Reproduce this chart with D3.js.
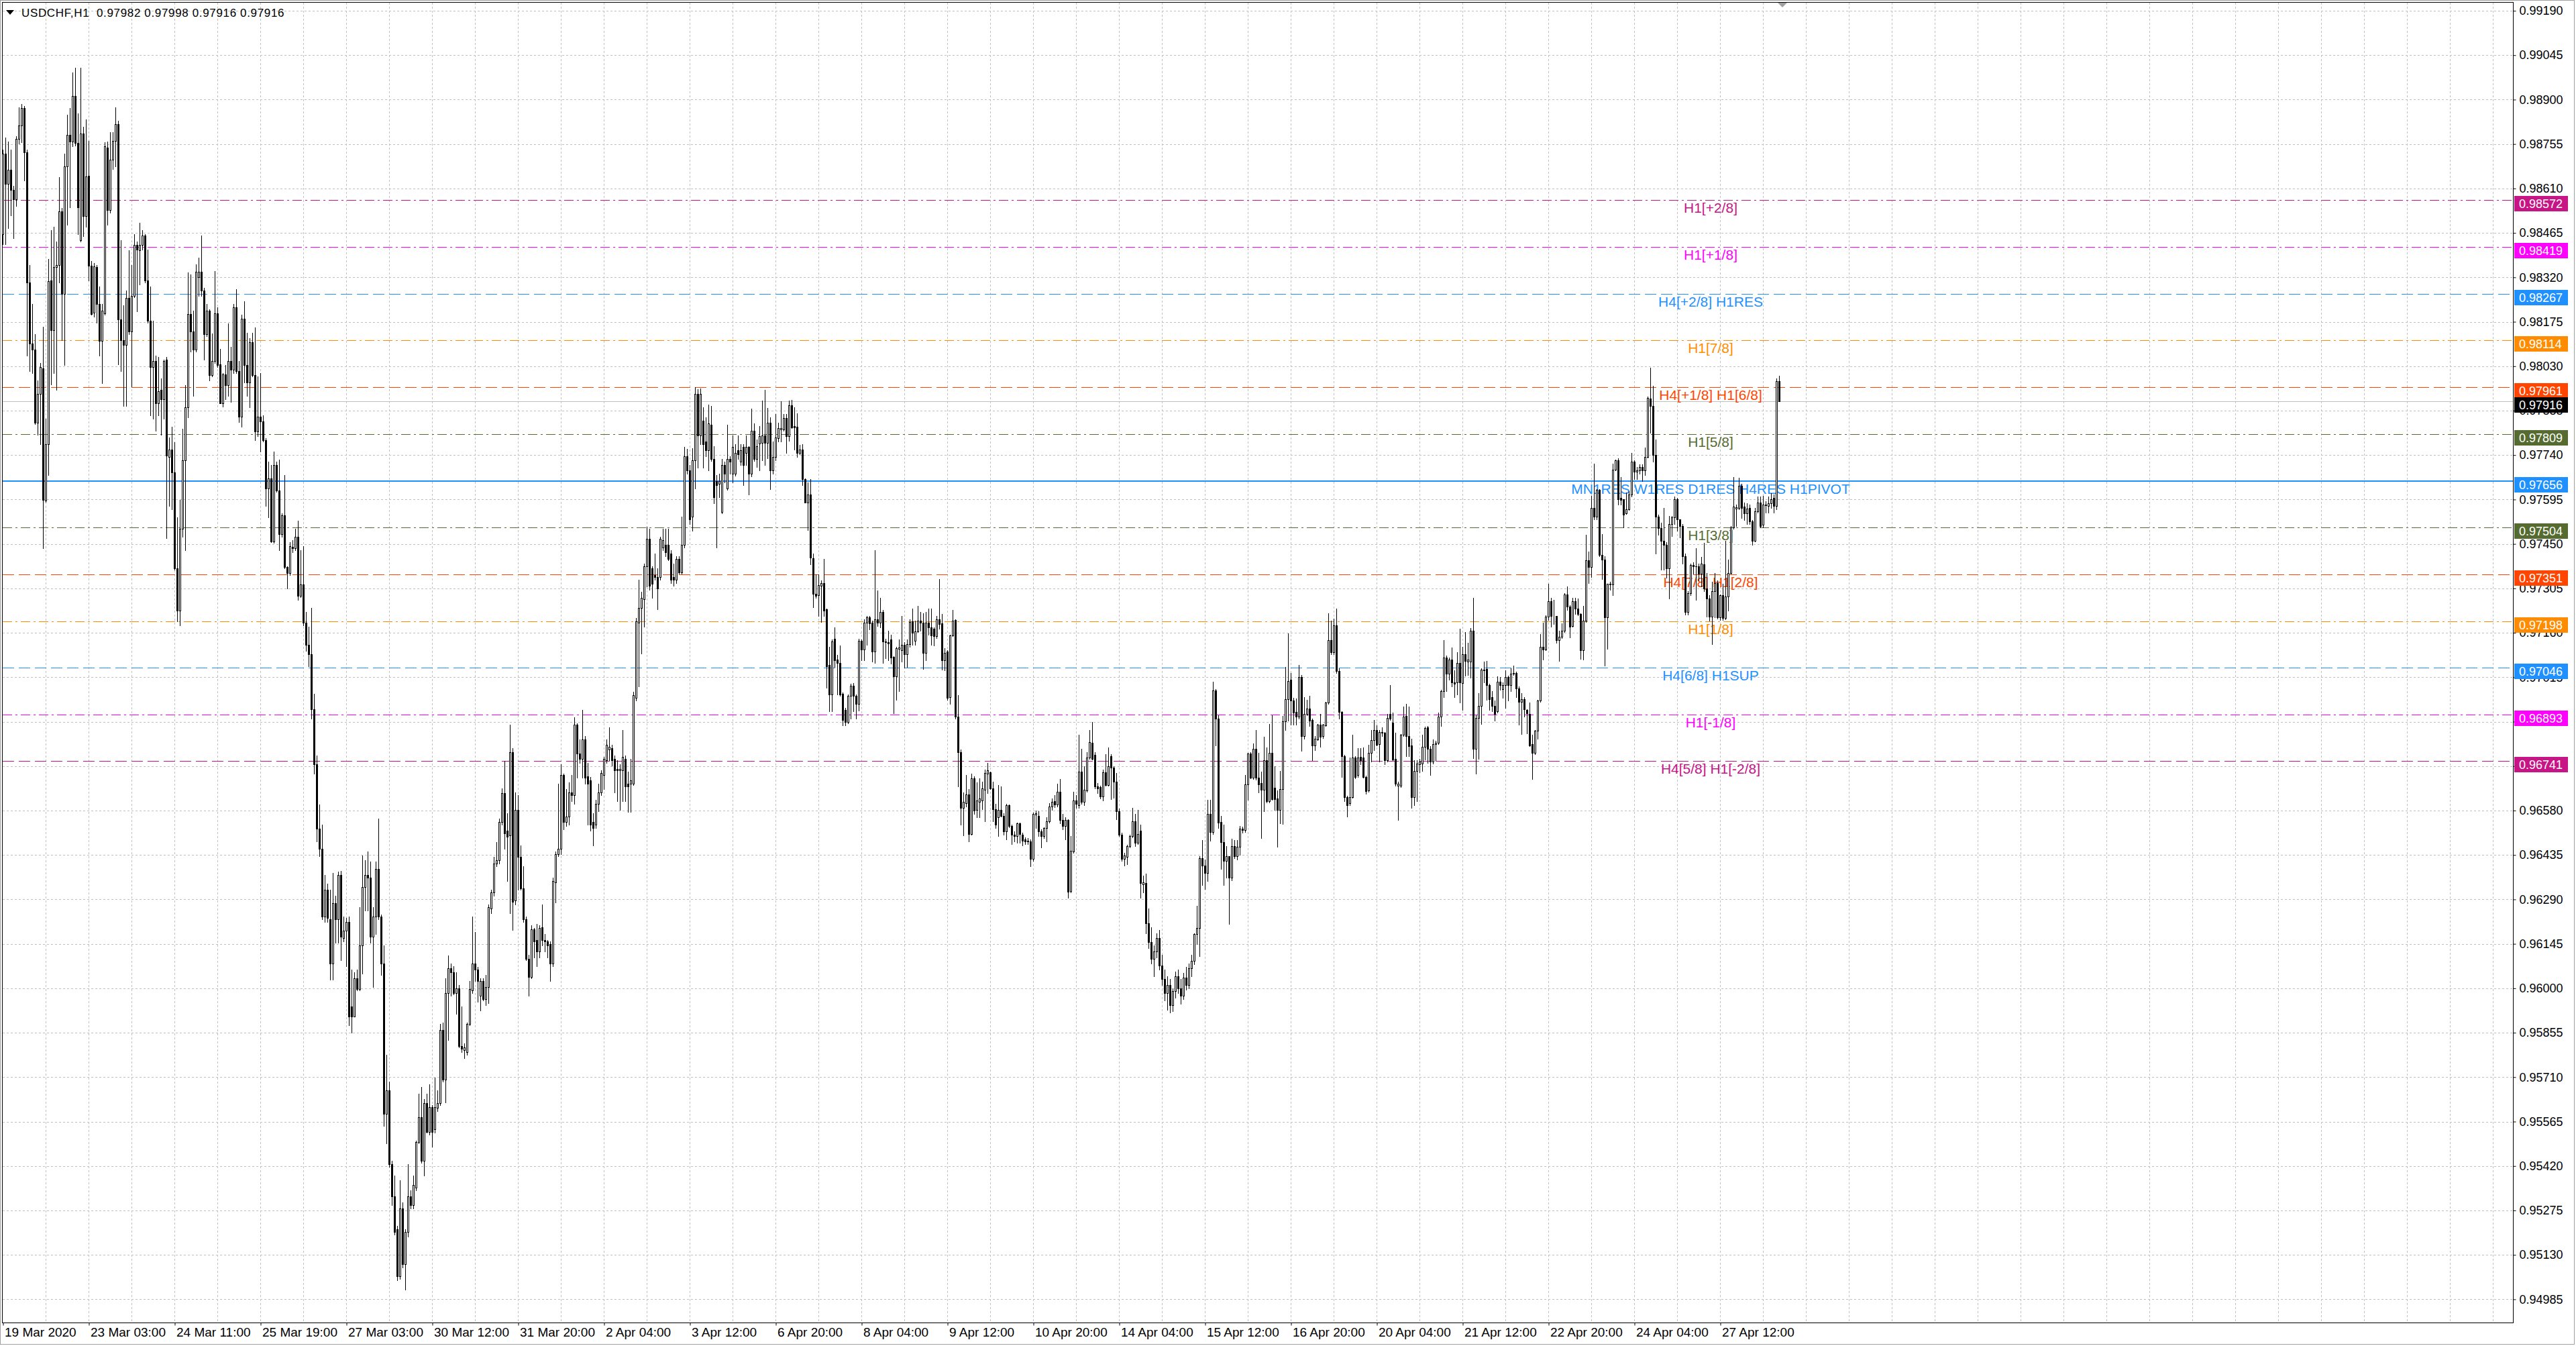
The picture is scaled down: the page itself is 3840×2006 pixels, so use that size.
<!DOCTYPE html>
<html>
<head>
<meta charset="utf-8">
<script src="https://cdn.jsdelivr.net/npm/d3@7"></script>
<style>
  html, body { margin: 0; padding: 0; background: #fff; overflow: hidden; }
  svg { display: block; }
</style>
</head>
<body>
<svg id="chart"></svg>
<script>
const W = 3840, H = 2006;

const title = "USDCHF,H1  0.97982 0.97998 0.97916 0.97916";

const timeLabels = ["19 Mar 2020", "23 Mar 03:00", "24 Mar 11:00", "25 Mar 19:00", "27 Mar 03:00",
  "30 Mar 12:00", "31 Mar 20:00", "2 Apr 04:00", "3 Apr 12:00", "6 Apr 20:00", "8 Apr 04:00",
  "9 Apr 12:00", "10 Apr 20:00", "14 Apr 04:00", "15 Apr 12:00", "16 Apr 20:00", "20 Apr 04:00",
  "21 Apr 12:00", "22 Apr 20:00", "24 Apr 04:00", "27 Apr 12:00"];
const barsPerTimeLabel = 32;

const priceTicks = [0.99190, 0.99045, 0.98900, 0.98755, 0.98610, 0.98465, 0.98320, 0.98175, 0.98030,
  0.97885, 0.97740, 0.97595, 0.97450, 0.97305, 0.97160, 0.97015, 0.96870, 0.96725, 0.96580, 0.96435,
  0.96290, 0.96145, 0.96000, 0.95855, 0.95710, 0.95565, 0.95420, 0.95275, 0.95130, 0.94985];

// Murrey levels drawn by the indicator
const levelPrices = [0.98572, 0.98419, 0.98267, 0.98114, 0.97961, 0.97809, 0.97656, 0.97504, 0.97351,
  0.97198, 0.97046, 0.96893, 0.96741];
const levelNames = ["H1[+2/8]", "H1[+1/8]", "H4[+2/8] H1RES", "H1[7/8]", "H4[+1/8] H1[6/8]", "H1[5/8]",
  "MN1RES W1RES D1RES H4RES H1PIVOT", "H1[3/8]", "H4[7/8] H1[2/8]", "H1[1/8]", "H4[6/8] H1SUP",
  "H1[-1/8]", "H4[5/8] H1[-2/8]"];
const levelColors = ["#C71585", "#FF00FF", "#1E90FF", "#FF8C00", "#FF4500", "#556B2F", "#1E90FF",
  "#556B2F", "#FF4500", "#FF8C00", "#1E90FF", "#FF00FF", "#C71585"];
const levelStyles = ["dashdot", "dashdot", "dash", "dashdot", "dash", "dashdot", "solid", "dashdot",
  "dash", "dashdot", "dash", "dashdot", "dash"];
const bidPrice = 0.97916;

// H1 candles, [open, high, low, close] in points above 0.90000
const BASE = 0.9;
const ohlc = [
[8461,8737,8429,8724],[8724,8777,8429,8624],[8624,8762,8480,8672],[8672,8737,8523,8605],[8605,8618,8448,8574],
[8574,8781,8552,8772],[8772,8875,8756,8815],[8815,8885,8760,8873],[8873,8878,8637,8728],[8728,8737,8065,8304],
[8304,8360,8015,8103],[8103,8234,8008,8084],[8084,8134,7842,7845],[7845,7983,7807,7939],[7939,8040,7776,8027],
[8023,8159,7437,7594],[7591,7858,7587,7776],[7776,8379,7675,8307],[8310,8473,7971,8147],[8147,8486,8008,8354],
[8354,8436,7952,8360],[8360,8647,8304,8536],[8536,8546,8115,8266],[8266,8724,8033,8683],[8683,8850,8492,8785],
[8785,8872,8549,8762],[8762,8988,8747,8913],[8913,9003,8750,8758],[8758,8856,8461,8549],[8442,9003,8436,8790],
[8790,8812,8454,8521],[8521,8835,8486,8649],[8652,8765,8310,8358],[8358,8373,8197,8201],[8204,8366,8191,8355],
[8354,8360,8172,8234],[8234,8291,8065,8113],[8113,8234,7974,8212],[8203,8760,8199,8747],[8743,8762,8492,8540],
[8540,8794,8530,8703],[8703,8794,8674,8766],[8766,8875,8681,8821],[8819,8831,8036,8182],[8182,8442,8015,8115],
[8115,8228,7901,8099],[8099,8278,7901,8253],[8253,8408,8134,8144],[8144,8360,7964,8260],[8260,8461,8256,8425],
[8425,8436,8209,8410],[8408,8498,8297,8425],[8425,8473,8410,8456],[8456,8461,8304,8310],[8310,8410,8172,8178],
[8178,8291,7870,8027],[8027,8178,7858,8048],[8048,8064,7820,7910],[7910,8061,7870,7948],[7952,7989,7807,7923],
[7923,8052,7858,8048],[8052,8061,7468,7738],[7734,7797,7575,7757],[7757,7832,7562,7684],[7684,7782,7367,7370],
[7370,7537,7198,7233],[7233,7594,7185,7499],[7499,7826,7474,7722],[7722,7968,7430,7895],[7895,8335,7864,8201],
[8201,8329,8077,8144],[8144,8212,7933,8084],[8084,8363,8077,8339],[8320,8385,8260,8339],[8339,8457,8260,8278],
[8278,8285,8052,8134],[8134,8234,8128,8212],[8212,8215,7983,8002],[8002,8136,7996,8048],[8048,8341,8040,8203],
[8203,8222,8027,8033],[8036,8086,7908,7910],[7910,8008,7898,8003],[8003,8033,7923,7968],[7968,8169,7933,8048],
[8048,8094,7913,8018],[8018,8234,8008,8222],[8222,8281,8008,8015],[8015,8046,7847,7866],[7866,8199,7832,8184],
[8184,8241,7977,8033],[8033,8140,7933,7977],[7977,8121,7895,8109],[8109,8140,7996,8002],[8002,8157,7788,7817],
[7817,7996,7801,7866],[7866,8008,7751,7851],[7851,7870,7785,7788],[7788,7795,7575,7631],[7631,7719,7537,7663],
[7663,7707,7455,7458],[7458,7751,7453,7707],[7707,7719,7619,7625],[7625,7726,7430,7481],[7481,7550,7474,7543],
[7543,7675,7370,7374],[7374,7378,7305,7355],[7355,7455,7349,7443],[7440,7462,7424,7437],[7437,7499,7430,7474],
[7474,7525,7267,7280],[7280,7430,7276,7317],[7317,7443,7185,7194],[7194,7229,7100,7120],[7120,7180,7050,7090],
[7090,7242,6880,6910],[6910,6960,6700,6730],[6730,6760,6480,6520],[6520,6600,6430,6456],[6456,6534,6225,6235],
[6235,6370,6216,6322],[6322,6341,6216,6229],[6225,6322,6029,6081],[6081,6376,6029,6277],[6277,6302,6148,6225],
[6225,6380,6148,6370],[6370,6383,6091,6168],[6164,6235,6152,6187],[6187,6229,6071,6216],[6216,6235,5879,5908],
[5940,6062,5856,5908],[5908,6052,5908,6033],[6033,6062,5994,5998],[5998,6264,5994,6139],[6139,6433,6048,6331],
[6331,6418,6254,6370],[6370,6447,6254,6360],[6360,6414,6148,6168],[6168,6264,6004,6235],[6235,6414,6177,6389],
[6389,6553,6225,6235],[6235,6240,6043,6081],[6081,6139,5551,5590],[5590,5783,5494,5667],[5667,5696,5417,5426],
[5426,5436,5292,5320],[5320,5388,5195,5205],[5214,5224,5047,5060],[5060,5374,5051,5282],[5282,5301,5089,5099],
[5099,5214,5016,5205],[5205,5426,5190,5320],[5320,5340,5282,5292],[5292,5388,5282,5359],[5349,5503,5340,5498],
[5498,5657,5494,5580],[5580,5677,5430,5436],[5436,5638,5388,5625],[5625,5657,5528,5532],[5532,5686,5523,5613],
[5613,5619,5484,5532],[5540,5709,5530,5613],[5609,5667,5600,5625],[5625,5883,5619,5863],[5863,5888,5696,5702],
[5702,6033,5628,5985],[5985,6106,5831,6066],[6066,6081,5975,6052],[6052,6071,5979,5985],[5985,6052,5917,6000],
[6000,6010,5806,5811],[5811,5940,5792,5802],[5798,5821,5773,5806],[5792,5888,5783,5883],[5883,6023,5879,5998],
[5994,6235,5985,6081],[6081,6183,6023,6062],[6062,6070,5956,6023],[5975,6033,5927,6023],[6023,6033,5960,5965],
[5965,6043,5946,6004],[6004,6274,5952,6264],[6260,6322,6245,6312],[6312,6428,6302,6408],[6408,6476,6399,6418],
[6418,6553,6408,6543],[6543,6653,6534,6636],[6636,6742,6456,6505],[6514,6572,6351,6495],[6499,6861,6245,6770],
[6770,6784,6191,6283],[6287,6639,6274,6582],[6582,6630,6322,6428],[6428,6466,6322,6326],[6326,6399,6216,6225],
[6225,6235,6091,6095],[6095,6110,5975,6037],[6037,6206,6033,6193],[6193,6197,6100,6154],[6158,6210,6071,6120],
[6120,6206,6100,6197],[6200,6274,6139,6158],[6158,6177,6120,6154],[6154,6158,6100,6139],[6145,6152,6023,6081],
[6081,6360,6071,6351],[6345,6447,6279,6437],[6437,6668,6430,6456],[6456,6730,6437,6697],[6697,6701,6518,6543],
[6543,6649,6530,6560],[6560,6672,6534,6639],[6639,6697,6611,6630],[6630,6884,6601,6861],[6861,6865,6688,6765],
[6765,6813,6736,6749],[6749,6909,6688,6813],[6813,6822,6668,6688],[6691,6736,6534,6668],[6678,6690,6514,6534],
[6543,6572,6466,6524],[6534,6614,6524,6601],[6601,6668,6578,6639],[6639,6711,6630,6703],[6697,6755,6649,6749],
[6745,6813,6736,6794],[6780,6851,6745,6788],[6784,6794,6726,6745],[6749,6760,6639,6711],[6716,6745,6611,6711],
[6711,6730,6582,6716],[6711,6842,6611,6755],[6749,6760,6611,6659],[6668,6707,6576,6659],[6668,6749,6576,6678],
[6668,6967,6664,6957],[6948,7208,6938,7198],[7192,7333,6986,7242],[7242,7294,7092,7275],[7269,7385,7179,7377],
[7377,7506,7311,7467],[7467,7500,7300,7313],[7371,7377,7275,7319],[7348,7419,7333,7342],[7342,7371,7236,7304],
[7342,7473,7333,7467],[7439,7500,7430,7462],[7448,7500,7410,7423],[7448,7500,7396,7400],[7419,7429,7323,7333],
[7342,7385,7313,7333],[7333,7410,7323,7400],[7400,7410,7352,7358],[7358,7539,7352,7448],[7448,7766,7439,7737],
[7737,7760,7679,7689],[7689,7708,7516,7531],[7539,7762,7492,7724],[7724,7962,7631,7939],[7939,7955,7699,7804],
[7804,7958,7776,7939],[7853,7897,7699,7776],[7785,7862,7737,7756],[7756,7905,7689,7843],[7839,7901,7720,7727],
[7727,7770,7583,7602],[7654,7674,7439,7641],[7647,7679,7602,7654],[7554,7727,7550,7708],[7708,7718,7650,7679],
[7631,7839,7627,7727],[7727,7737,7679,7718],[7679,7804,7650,7766],[7679,7775,7673,7747],[7756,7804,7727,7743],
[7718,7775,7708,7756],[7766,7775,7641,7708],[7747,7804,7708,7766],[7766,7770,7612,7679],[7679,7891,7670,7820],
[7820,7843,7720,7727],[7727,7790,7700,7770],[7777,7835,7690,7801],[7779,7918,7723,7805],[7805,7952,7707,7779],
[7779,7893,7729,7846],[7846,7863,7628,7690],[7690,7785,7679,7734],[7734,7874,7723,7798],[7796,7846,7785,7827],
[7824,7916,7785,7829],[7824,7874,7820,7860],[7860,7874,7746,7801],[7801,7918,7787,7902],[7902,7921,7829,7831],
[7835,7896,7757,7831],[7833,7876,7734,7746],[7746,7773,7742,7757],[7757,7776,7642,7662],[7662,7664,7584,7586],
[7586,7651,7495,7612],[7612,7662,7383,7405],[7403,7419,7244,7288],[7288,7350,7274,7280],[7283,7350,7216,7316],
[7314,7330,7196,7322],[7322,7400,7216,7232],[7236,7238,6981,7051],[7054,7115,6903,6959],[6959,7138,6903,7132],
[7140,7177,7048,7071],[7073,7087,6959,7062],[7062,7118,6954,6959],[6961,6965,6859,6875],[6909,6915,6857,6870],
[6870,6959,6864,6954],[6954,6993,6881,6987],[6987,6995,6903,6954],[6954,6959,6881,6928],[6928,7140,6906,7135],
[7135,7138,7071,7106],[7106,7205,7071,7193],[7193,7216,7121,7210],[7210,7216,7171,7191],[7193,7199,7065,7099],
[7099,7430,7062,7205],[7205,7299,7182,7193],[7193,7274,7177,7227],[7227,7235,7062,7132],[7132,7140,7076,7129],
[7129,7166,7071,7126],[7138,7154,7060,7080],[7082,7084,6898,7017],[7017,7115,6942,7110],[7107,7138,6970,7112],
[7104,7216,7065,7121],[7121,7129,7046,7091],[7091,7138,7048,7124],[7124,7205,7115,7196],[7198,7238,7121,7160],
[7135,7199,7120,7165],[7165,7247,7162,7199],[7199,7227,7166,7193],[7193,7224,7043,7095],[7095,7227,7071,7193],
[7193,7238,7154,7177],[7177,7240,7121,7151],[7173,7177,7118,7149],[7149,7216,7143,7205],[7205,7336,7173,7188],
[7191,7221,7040,7071],[7071,7110,7037,7095],[7099,7104,6942,6948],[6950,7154,6928,7151],[7151,7235,7149,7199],
[7202,7205,6881,6887],[6887,6957,6658,6770],[6770,6780,6535,6589],[6589,6638,6500,6608],[6604,6697,6593,6633],
[6633,6649,6480,6504],[6504,6700,6502,6686],[6686,6691,6569,6580],[6582,6671,6558,6613],[6608,6686,6558,6619],
[6613,6675,6585,6652],[6647,6714,6546,6703],[6700,6736,6636,6712],[6705,6708,6649,6652],[6652,6675,6546,6585],
[6585,6602,6524,6535],[6558,6664,6496,6582],[6582,6658,6560,6563],[6563,6571,6502,6513],[6513,6602,6485,6597],
[6597,6600,6526,6530],[6530,6533,6471,6502],[6502,6513,6480,6496],[6496,6541,6474,6538],[6538,6541,6474,6504],
[6502,6508,6466,6482],[6485,6493,6471,6480],[6480,6491,6471,6482],[6480,6485,6399,6422],[6422,6574,6415,6569],
[6567,6580,6524,6571],[6563,6578,6496,6513],[6513,6519,6459,6496],[6496,6526,6491,6524],[6524,6558,6480,6546],
[6546,6604,6541,6593],[6593,6619,6582,6608],[6611,6630,6591,6600],[6600,6667,6593,6641],[6641,6683,6538,6549],
[6549,6569,6519,6530],[6530,6558,6485,6549],[6549,6552,6295,6314],[6318,6496,6312,6448],[6446,6641,6441,6613],
[6613,6630,6589,6602],[6597,6828,6589,6708],[6708,6781,6602,6608],[6608,6725,6598,6647],[6645,6770,6641,6753],
[6753,6842,6749,6803],[6801,6870,6747,6749],[6761,6770,6652,6658],[6658,6669,6636,6652],[6656,6660,6619,6627],
[6627,6714,6613,6705],[6705,6764,6660,6664],[6664,6786,6660,6725],[6758,6764,6618,6719],[6719,6725,6622,6675],
[6675,6703,6552,6578],[6578,6586,6496,6502],[6502,6508,6415,6422],[6422,6441,6401,6433],[6429,6468,6404,6463],
[6463,6502,6459,6496],[6496,6589,6493,6546],[6546,6569,6463,6474],[6474,6582,6471,6504],[6515,6535,6295,6344],
[6340,6368,6312,6346],[6344,6374,6180,6212],[6212,6260,6130,6150],[6150,6200,6080,6095],[6095,6140,6040,6120],
[6120,6180,6100,6165],[6165,6190,6060,6075],[6075,6110,6010,6030],[6030,6060,5960,5985],[5985,6040,5930,6010],
[6010,6030,5920,5945],[5945,6000,5925,5990],[5990,6055,5970,6040],[6040,6060,5985,6000],[6000,6030,5950,5975],
[5975,6050,5965,6035],[6035,6070,5995,6010],[6010,6080,6000,6065],[6065,6110,6040,6089],[6089,6180,6079,6177],
[6177,6268,6144,6197],[6197,6430,6105,6425],[6425,6484,6337,6401],[6401,6420,6324,6376],[6376,6616,6350,6569],
[6569,6614,6481,6510],[6510,7000,6504,6971],[6971,6977,6793,6879],[6879,6891,6523,6540],[6542,6562,6389,6477],
[6477,6533,6337,6415],[6415,6464,6360,6430],[6430,6432,6210,6360],[6360,6489,6352,6464],[6464,6484,6425,6432],
[6432,6484,6420,6461],[6461,6530,6435,6520],[6520,6528,6508,6516],[6516,6695,6510,6665],[6665,6768,6616,6765],
[6765,6771,6685,6687],[6687,6798,6683,6781],[6781,6842,6680,6687],[6687,6768,6638,6665],[6670,6706,6491,6648],
[6648,6820,6577,6744],[6744,6785,6607,6611],[6611,6863,6607,6768],[6768,6891,6614,6618],[6654,6724,6582,6618],
[6620,6646,6461,6582],[6582,6709,6538,6651],[6651,6889,6536,6871],[6871,7049,6842,6944],[6944,7157,6873,7003],
[7008,7028,6861,6940],[6940,6947,6861,6900],[6902,6946,6861,6886],[6886,7054,6881,7016],[7016,7023,6775,6822],
[6822,6951,6815,6895],[6895,6941,6891,6912],[6913,6954,6856,6873],[6876,6879,6744,6793],[6793,6822,6778,6814],
[6812,6863,6810,6861],[6861,6895,6788,6820],[6822,6863,6817,6861],[6859,6935,6856,6932],[6932,7224,6928,7137],
[7137,7199,7091,7096],[7096,7206,7091,7184],[7184,7238,7028,7036],[7036,7045,6881,6902],[6902,6905,6690,6758],
[6758,6761,6611,6624],[6624,6628,6560,6597],[6604,6753,6597,6624],[6624,6827,6621,6753],[6753,6758,6685,6690],
[6695,6783,6690,6753],[6755,6783,6732,6744],[6753,6785,6687,6690],[6690,6693,6634,6644],[6646,6795,6641,6768],
[6768,6843,6739,6810],[6810,6876,6778,6842],[6842,6859,6793,6795],[6797,6843,6739,6837],[6834,6851,6822,6837],
[6834,6837,6732,6744],[6744,6895,6739,6883],[6895,6990,6875,6881],[6866,6900,6744,6746],[6749,6834,6660,6667],
[6660,6675,6550,6667],[6660,6830,6657,6827],[6827,6920,6824,6886],[6889,6928,6758,6822],[6822,6920,6758,6791],
[6793,6814,6589,6624],[6624,6744,6597,6709],[6709,6744,6611,6734],[6732,6749,6704,6739],[6734,6827,6709,6788],
[6788,6853,6746,6849],[6851,6856,6736,6781],[6781,6790,6697,6739],[6739,6812,6734,6797],[6797,6807,6744,6802],
[6802,6900,6797,6886],[6886,6974,6856,6969],[6969,7137,6951,7079],[7079,7085,6969,7026],[7026,7079,7008,7072],
[7072,7111,6984,6998],[6998,7038,6951,6993],[6998,7096,6959,7062],[7062,7173,6932,6998],[6996,7114,6908,7091],
[7091,7163,7020,7069],[7067,7128,7023,7072],[7067,7175,7013,7167],[7167,7275,6751,6781],[6781,6891,6700,6883],
[6883,6964,6749,6922],[6922,7045,6863,7039],[7037,7067,6998,7040],[7042,7069,6941,6990],[6990,6993,6908,6944],
[6949,6969,6905,6922],[6922,6940,6873,6895],[6905,7018,6900,7000],[7000,7016,6974,6989],[6977,6998,6947,6989],
[6989,7038,6915,7016],[7016,7020,6940,6989],[6989,7044,6969,7026],[7026,7052,7023,7028],[7028,7033,6949,6979],
[6979,6984,6861,6935],[6935,6964,6830,6944],[6944,6951,6886,6910],[6908,6910,6832,6898],[6895,6932,6791,6793],
[6797,6827,6683,6768],[6768,6843,6763,6840],[6840,6941,6814,6938],[6938,7155,6935,7114],[7114,7192,7072,7106],
[7106,7218,7104,7212],[7212,7320,7202,7263],[7263,7275,7180,7214],[7214,7268,7189,7216],[7214,7216,7128,7136],
[7136,7167,7069,7147],[7148,7191,7142,7166],[7166,7290,7162,7286],[7286,7312,7235,7245],[7245,7250,7144,7180],
[7182,7274,7180,7264],[7264,7275,7221,7239],[7239,7272,7217,7221],[7221,7224,7075,7104],[7104,7248,7072,7199],
[7199,7480,7195,7396],[7396,7425,7323,7374],[7374,7607,7341,7567],[7567,7713,7531,7539],[7539,7629,7531,7626],
[7626,7629,7410,7414],[7414,7483,7335,7398],[7398,7410,7053,7211],[7211,7320,7107,7319],[7319,7326,7301,7318],
[7318,7713,7283,7693],[7693,7725,7690,7724],[7724,7730,7578,7596],[7600,7669,7578,7593],[7595,7596,7503,7545],
[7549,7618,7547,7564],[7564,7622,7560,7611],[7611,7747,7605,7719],[7719,7722,7662,7685],[7685,7700,7662,7690],
[7690,7709,7680,7700],[7700,7710,7655,7690],[7690,7765,7675,7733],[7733,7930,7731,7927],[7925,8025,7813,7900],
[7900,7967,7718,7741],[7741,7790,7418,7538],[7538,7545,7480,7501],[7501,7520,7367,7461],[7461,7567,7367,7447],
[7447,7455,7340,7370],[7370,7542,7272,7516],[7516,7542,7476,7537],[7537,7604,7516,7596],[7596,7600,7494,7531],
[7531,7531,7472,7509],[7509,7516,7385,7410],[7410,7418,7220,7228],[7228,7297,7220,7290],[7290,7385,7283,7381],
[7381,7390,7352,7377],[7377,7436,7268,7376],[7376,7385,7330,7352],[7352,7407,7312,7385],[7383,7454,7297,7304],
[7304,7356,7213,7272],[7272,7283,7199,7213],[7213,7326,7122,7297],[7297,7356,7210,7323],[7323,7330,7206,7210],
[7210,7286,7202,7283],[7283,7319,7202,7209],[7209,7461,7205,7279],[7279,7399,7232,7356],[7356,7509,7352,7505],
[7503,7669,7500,7571],[7566,7578,7509,7569],[7567,7666,7563,7640],[7640,7647,7534,7567],[7571,7585,7527,7549],
[7549,7582,7516,7566],[7567,7578,7516,7523],[7523,7527,7447,7461],[7461,7567,7458,7556],[7556,7604,7553,7585],
[7585,7604,7503,7509],[7512,7607,7505,7578],[7578,7589,7553,7576],[7574,7604,7553,7583],[7582,7615,7567,7596],
[7600,7611,7553,7574],[7574,7990,7563,7982],[7982,7998,7916,7916]
];

// ---------- layout ----------
const frame = { left: 3.5, top: 3.5, right: 3746.5, bottom: 1971.5 };
const FONT = "'Liberation Sans', Arial, sans-serif";

const svg = d3.select("#chart").attr("width", W).attr("height", H);
svg.append("rect").attr("width", W).attr("height", H).attr("fill", "#fff");

const y = d3.scaleLinear().domain([0.94985, 0.99190]).range([1936.4, 16]);
const x = d3.scaleLinear().domain([0, 1]).range([4.5, 8.5]);   // 4 px per H1 bar
const px = v => Math.round(v) + 0.5;

// window border
svg.append("rect").attr("x", 0.5).attr("y", 0.5).attr("width", 3837).attr("height", 2003)
  .attr("fill", "none").attr("stroke", "#a0a0a0");

// grid
const grid = svg.append("g").attr("stroke", "#c0c0c0").attr("stroke-dasharray", "3,3")
  .attr("shape-rendering", "crispEdges");
grid.selectAll("line.h").data(priceTicks).join("line").attr("class", "h")
  .attr("x1", frame.left).attr("x2", frame.right)
  .attr("y1", d => px(y(d))).attr("y2", d => px(y(d)));
const lastGridBar = x.invert(frame.right);
grid.selectAll("line.v").data(d3.range(16, lastGridBar, 16)).join("line").attr("class", "v")
  .attr("x1", d => x(d)).attr("x2", d => x(d))
  .attr("y1", frame.top).attr("y2", frame.bottom);

// level lines
const dashes = { dash: "17,7", dashdot: "14,5,3,5", solid: null };
const levels = levelPrices.map((p, i) => ({ p, name: levelNames[i], color: levelColors[i], style: levelStyles[i] }));

svg.append("g").attr("shape-rendering", "crispEdges")
  .selectAll("line").data(levels).join("line")
  .attr("x1", frame.left).attr("x2", frame.right)
  .attr("y1", d => d.style === "solid" ? Math.round(y(d.p)) : px(y(d.p)))
  .attr("y2", d => d.style === "solid" ? Math.round(y(d.p)) : px(y(d.p)))
  .attr("stroke", d => d.color)
  .attr("stroke-width", d => d.style === "solid" ? 2 : 1)
  .attr("stroke-dasharray", d => dashes[d.style]);

// bid line
svg.append("line").attr("x1", frame.left).attr("x2", frame.right)
  .attr("y1", px(y(bidPrice))).attr("y2", px(y(bidPrice)))
  .attr("stroke", "#c0c0c0").attr("shape-rendering", "crispEdges");

// level names
svg.append("g").attr("font-family", FONT).attr("font-size", 21).attr("text-anchor", "middle")
  .selectAll("text").data(levels).join("text")
  .attr("x", 2550).attr("y", d => y(d.p) + 19)
  .attr("fill", d => d.color).text(d => d.name);

// candles
const bars = ohlc.map(([o, h, l, c], i) => ({
  i, o: BASE + o / 1e5, h: BASE + h / 1e5, l: BASE + l / 1e5, c: BASE + c / 1e5
}));
const cg = svg.append("g").attr("shape-rendering", "crispEdges");
cg.selectAll("line").data(bars).join("line")
  .attr("x1", d => x(d.i)).attr("x2", d => x(d.i))
  .attr("y1", d => Math.round(y(Math.max(d.h, d.o, d.c))))
  .attr("y2", d => Math.round(y(Math.min(d.l, d.o, d.c))) + 1)
  .attr("stroke", "#000");
cg.selectAll("rect.bull").data(bars.filter(d => d.c >= d.o)).join("rect").attr("class", "bull")
  .attr("x", d => x(d.i) - 1).attr("width", 2)
  .attr("y", d => px(y(d.c)))
  .attr("height", d => Math.max(0, Math.round(y(d.o)) - Math.round(y(d.c))))
  .attr("fill", "#fff").attr("stroke", "#000");
cg.selectAll("rect.bear").data(bars.filter(d => d.c < d.o)).join("rect").attr("class", "bear")
  .attr("x", d => x(d.i) - 1.5).attr("width", 3)
  .attr("y", d => Math.round(y(d.o)))
  .attr("height", d => Math.max(1, Math.round(y(d.c)) - Math.round(y(d.o)) + 1))
  .attr("fill", "#000");

// frame
svg.append("rect").attr("x", frame.left).attr("y", frame.top)
  .attr("width", frame.right - frame.left).attr("height", frame.bottom - frame.top)
  .attr("fill", "none").attr("stroke", "#000").attr("shape-rendering", "crispEdges");

// price axis
const yAxis = d3.axisRight(y).tickValues(priceTicks).tickFormat(d3.format(".5f"))
  .tickSize(4).tickPadding(5);
svg.append("g").attr("transform", `translate(${frame.right},0)`).call(yAxis)
  .call(g => g.select(".domain").remove())
  .call(g => g.selectAll("line").attr("stroke", "#000"))
  .attr("font-family", FONT).attr("font-size", 18)
  .selectAll("text").attr("fill", "#000");

// time axis
const xAxis = d3.axisBottom(x)
  .tickValues(timeLabels.map((_, k) => k * barsPerTimeLabel))
  .tickFormat((d, k) => timeLabels[k]).tickSize(4);
svg.append("g").attr("transform", `translate(0,${frame.bottom})`).call(xAxis)
  .call(g => g.select(".domain").remove())
  .call(g => g.selectAll("line").attr("stroke", "#000"))
  .attr("font-family", FONT).attr("font-size", 19)
  .selectAll("text").attr("text-anchor", "start").attr("x", 2).attr("y", 7).attr("fill", "#000");

// price tags on the axis (drawn a little below the line, as the terminal does)
const tags = levels.map(d => ({ p: d.p, color: d.color })).concat([{ p: bidPrice, color: "#000" }]);
const tg = svg.append("g").attr("font-family", FONT).attr("font-size", 18);
tg.selectAll("rect").data(tags).join("rect")
  .attr("x", 3748).attr("width", 80).attr("y", d => Math.round(y(d.p)) - 6).attr("height", 23)
  .attr("fill", d => d.color);
tg.selectAll("text").data(tags).join("text")
  .attr("x", 3755).attr("y", d => y(d.p) + 12).attr("fill", "#fff")
  .text(d => d3.format(".5f")(d.p));

// title
svg.append("path").attr("d", "M9,15 L21,15 L15,22 Z").attr("fill", "#000");
svg.append("text").attr("x", 32).attr("y", 25).attr("font-family", FONT).attr("font-size", 17)
  .attr("letter-spacing", 0.65).attr("fill", "#000")
  .attr("xml:space", "preserve").style("white-space", "pre").text(title);

// chart shift marker
svg.append("path").attr("d", "M2650,4 L2664,4 L2657,11 Z").attr("fill", "#a0a0a0");
</script>
</body>
</html>
